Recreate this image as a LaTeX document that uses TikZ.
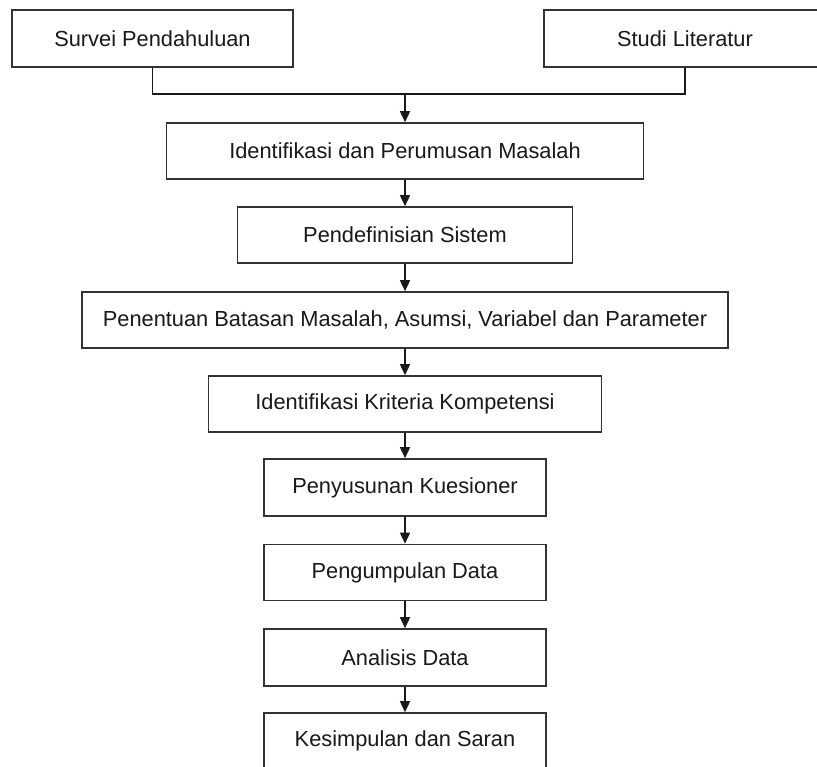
\documentclass[tikz,border=0pt]{standalone}
\usepackage{fontspec}
\setmainfont{Liberation Sans}
\usetikzlibrary{arrows.meta}
\begin{document}
\begin{tikzpicture}[x=1pt,y=-1pt,
  stepbox/.style={draw=black!80, line width=1.6pt, fill=white, inner sep=0pt,
    text=black!90, font=\fontsize{21.8}{26}\selectfont},
  link/.style={draw=black!90, line width=1.5pt},
  arr/.style={link, -{Triangle[length=11pt,width=10pt]}}]
\useasboundingbox (0,0) rectangle (817,767);
\node[stepbox, minimum width=281pt, minimum height=57pt] (sp) at (152.5,38.5) {Survei Pendahuluan};
\node[stepbox, minimum width=282pt, minimum height=57pt] (sl) at (685,38.5) {Studi Literatur};
\node[stepbox, minimum width=477pt, minimum height=56pt] (im) at (405,151) {Identifikasi dan Perumusan Masalah};
\node[stepbox, minimum width=335pt, minimum height=56pt] (ps) at (405,235) {Pendefinisian Sistem};
\node[stepbox, minimum width=646pt, minimum height=56pt] (pb) at (405,320) {Penentuan Batasan Masalah, Asumsi, Variabel dan Parameter};
\node[stepbox, minimum width=393pt, minimum height=56pt] (ik) at (405,404) {Identifikasi Kriteria Kompetensi};
\node[stepbox, minimum width=282pt, minimum height=57pt] (pk) at (405,487.5) {Penyusunan Kuesioner};
\node[stepbox, minimum width=282pt, minimum height=56pt] (pd) at (405,572.5) {Pengumpulan Data};
\node[stepbox, minimum width=282pt, minimum height=57pt] (ad) at (405,657.5) {Analisis Data};
\node[stepbox, minimum width=282pt, minimum height=56pt] (ks) at (405,741) {Kesimpulan dan Saran};
\coordinate (j) at (405,94);
\draw[link] (sp.south) -- (sp.south |- j) -- (sl.south |- j) -- (sl.south);
\draw[arr] (j) -- (im.north);
\draw[arr] (im.south) -- (ps.north);
\draw[arr] (ps.south) -- (pb.north);
\draw[arr] (pb.south) -- (ik.north);
\draw[arr] (ik.south) -- (pk.north);
\draw[arr] (pk.south) -- (pd.north);
\draw[arr] (pd.south) -- (ad.north);
\draw[arr] (ad.south) -- (ks.north);
\end{tikzpicture}
\end{document}
